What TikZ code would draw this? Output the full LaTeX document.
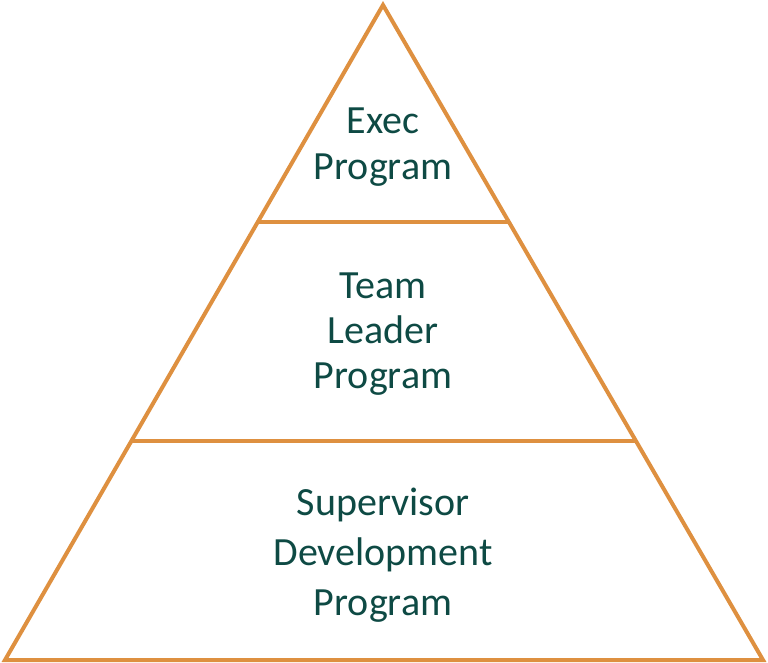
\documentclass[tikz,border=0pt]{standalone}
\usepackage{fontspec}
\setmainfont{Carlito}
\usepackage{xcolor}
\usepackage{tikz}
\usetikzlibrary{calc}
\definecolor{tierline}{RGB}{222,144,64}
\definecolor{tiertext}{RGB}{14,74,68}
\tikzset{
  tierlabel/.style={text=tiertext, font=\fontsize{30}{34}\selectfont, align=center, inner sep=0pt},
  tieredge/.style={draw=tierline, line width=3pt, line join=miter}
}

\begin{document}
\begin{tikzpicture}[x=0.75pt, y=-0.75pt]
        \useasboundingbox (0,0) rectangle (768,663);
        \coordinate (apex) at (383,5);
        \coordinate (bl) at (5,660);
        \coordinate (br) at (763,660);
        \coordinate (l1) at ($(apex)!0.3313!(bl)$);
        \coordinate (r1) at ($(apex)!0.3313!(br)$);
        \coordinate (l2) at ($(apex)!0.6656!(bl)$);
        \coordinate (r2) at ($(apex)!0.6656!(br)$);
        \draw[tieredge] (apex) -- (br) -- (bl) -- cycle;
        \draw[tieredge] (l1) -- (r1);
        \draw[tieredge] (l2) -- (r2);
        \node[tierlabel] (exec) at (383,147) {Exec\\Program};
        \node[tierlabel] (lead) at (383,334) {Team\\Leader\\Program};
        \node[tierlabel, font=\fontsize{30}{37.5}\selectfont] (super) at (383,555) {Supervisor\\Development\\Program};
      \end{tikzpicture}
\end{document}
